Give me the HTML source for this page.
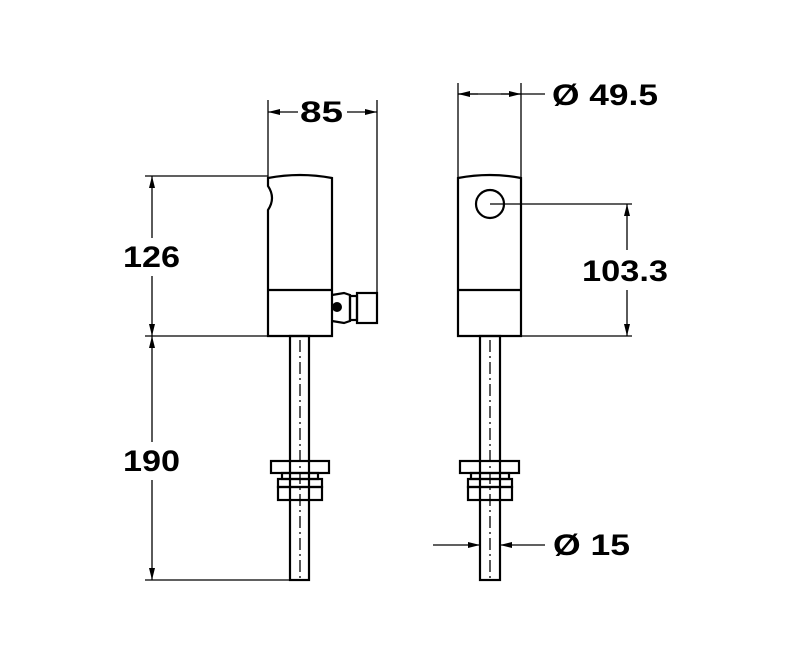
<!DOCTYPE html>
<html><head><style>body{margin:0;background:#fff}svg{display:block}</style></head><body>
<svg width="800" height="661" viewBox="0 0 800 661" xmlns="http://www.w3.org/2000/svg">
<defs>
<marker id="a" viewBox="0 0 12 6" refX="12" refY="3" markerWidth="12" markerHeight="6" orient="auto-start-reverse" markerUnits="userSpaceOnUse"><path d="M0,0L12,3L0,6z" fill="#000"/></marker>
</defs>
<g fill="none" stroke="#000" stroke-width="1.3">
<line x1="268" y1="100" x2="268" y2="178"/>
<line x1="377" y1="100" x2="377" y2="294"/>
<line x1="145" y1="176" x2="268" y2="176"/>
<line x1="145" y1="336" x2="268" y2="336"/>
<line x1="145" y1="580" x2="290" y2="580"/>
<line x1="458" y1="83" x2="458" y2="178"/>
<line x1="521" y1="83" x2="521" y2="178"/>
<line x1="490" y1="204" x2="632" y2="204"/>
<line x1="522" y1="336" x2="632" y2="336"/>
<line x1="268" y1="112" x2="298" y2="112" marker-start="url(#a)"/>
<line x1="347" y1="112" x2="377" y2="112" marker-end="url(#a)"/>
<line x1="152" y1="176" x2="152" y2="238" marker-start="url(#a)"/>
<line x1="152" y1="276" x2="152" y2="336" marker-end="url(#a)"/>
<line x1="152" y1="336" x2="152" y2="442" marker-start="url(#a)"/>
<line x1="152" y1="480" x2="152" y2="580" marker-end="url(#a)"/>
<line x1="458" y1="94" x2="545" y2="94"/>
<line x1="458" y1="94" x2="478" y2="94" marker-start="url(#a)"/>
<line x1="501" y1="94" x2="521" y2="94" marker-end="url(#a)"/>
<line x1="627" y1="204" x2="627" y2="250" marker-start="url(#a)"/>
<line x1="627" y1="290" x2="627" y2="336" marker-end="url(#a)"/>
<line x1="433" y1="545" x2="480" y2="545" marker-end="url(#a)"/>
<line x1="500" y1="545" x2="545" y2="545" marker-start="url(#a)"/>
</g>
<g fill="none" stroke="#000" stroke-width="2.2">
<path d="M268,178 Q300,172 332,178 L332,336 L268,336 L268,210 Q276,198 268,186 Z"/>
<line x1="268" y1="290" x2="332" y2="290"/>
<path d="M332,295 L344,293 L350,295 L350,321 L344,323 L332,321"/>
<rect x="350" y="296" width="7" height="24"/>
<rect x="357" y="293" width="20" height="30"/>
<rect x="290" y="336" width="19" height="244"/>
<rect x="271" y="461" width="58" height="12"/>
<rect x="282" y="473" width="36" height="6"/>
<rect x="278" y="479" width="44" height="8"/>
<rect x="278" y="487" width="44" height="13"/>
<path d="M458,178 Q490,172 521,178 L521,336 L458,336 Z"/>
<line x1="458" y1="290" x2="521" y2="290"/>
<circle cx="490" cy="204" r="14"/>
<rect x="480" y="336" width="20" height="244"/>
<rect x="460" y="461" width="59" height="12"/>
<rect x="471" y="473" width="38" height="6"/>
<rect x="468" y="479" width="44" height="8"/>
<rect x="468" y="487" width="44" height="13"/>
</g>
<circle cx="337" cy="307" r="5" fill="#000"/>
<g stroke="#000" stroke-width="1.3" stroke-dasharray="12,4,2,4">
<line x1="300" y1="340" x2="300" y2="578"/>
<line x1="490" y1="340" x2="490" y2="578"/>
</g>
<g font-family="Liberation Sans, sans-serif" font-weight="bold" font-size="30" fill="#000">
<text x="300" y="122" textLength="43" lengthAdjust="spacingAndGlyphs">85</text>
<text x="123" y="267" textLength="57" lengthAdjust="spacingAndGlyphs">126</text>
<text x="123" y="471" textLength="57" lengthAdjust="spacingAndGlyphs">190</text>
<text x="552" y="105" textLength="106" lengthAdjust="spacingAndGlyphs">Ø 49.5</text>
<text x="582" y="281" textLength="86" lengthAdjust="spacingAndGlyphs">103.3</text>
<text x="553" y="555" textLength="77" lengthAdjust="spacingAndGlyphs">Ø 15</text>
</g>
</svg>
</body></html>
